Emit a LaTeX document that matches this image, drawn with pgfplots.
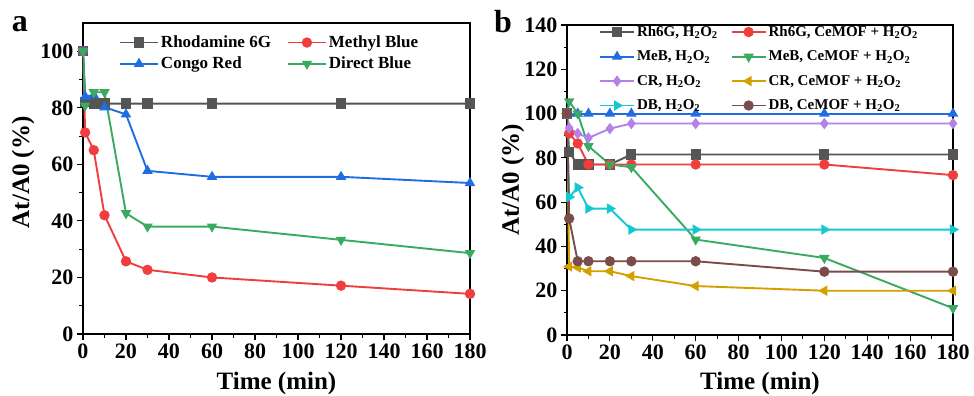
\documentclass[border=0pt]{standalone}
\usepackage{fontspec}
\setmainfont{Liberation Serif}
\usepackage{pgfplots}
\pgfplotsset{compat=1.18}
\definecolor{cgray}{RGB}{85,85,85}
\definecolor{cred}{RGB}{240,62,62}
\definecolor{cblue}{RGB}{30,110,225}
\definecolor{cgreen}{RGB}{58,170,96}
\definecolor{cpurple}{RGB}{180,130,230}
\definecolor{cgold}{RGB}{212,160,0}
\definecolor{ccyan}{RGB}{20,200,210}
\definecolor{cbrown}{RGB}{122,76,76}
\pgfplotsset{
 mystyle/.style={
  scale only axis,
  xmin=0,xmax=180, ymin=0,
  xtick={0,20,...,180}, minor x tick num=1, minor y tick num=1,
  tick align=outside, tick pos=left,
  major tick length=6bp, minor tick length=3.5bp,
  axis line style={line width=1.2bp},
  every tick/.style={black, line width=1.1bp},
  tick label style={font=\fontsize{22bp}{26bp}\selectfont\bfseries},
  /pgf/number format/assume math mode=true,
  xticklabel={\textbf{\pgfmathprintnumber{\tick}}},
  yticklabel={\textbf{\pgfmathprintnumber{\tick}}},
  label style={font=\fontsize{25bp}{30bp}\selectfont\bfseries},
  xlabel={Time (min)},
  ylabel={At/A0 (\%)},
  x label style={at={(axis description cs:0.5,-0.158)}, anchor=center},
  every axis plot/.append style={line width=1.9bp, mark size=4.2bp, mark options={solid}},
  legend cell align=left,
 }
}
\begin{document}
\begin{tikzpicture}
\path[use as bounding box] (-83bp,-62bp) rectangle (891bp,334bp);
\begin{axis}[mystyle, at={(0bp,0bp)}, anchor=south west,
  width=387bp, height=311bp, ymax=110, ytick={0,20,...,100},
  y label style={at={(axis description cs:-0.155,0.52)}, anchor=center},
  legend columns=2,
  legend image code/.code={\draw[mark repeat=2,mark phase=2] plot coordinates {(0bp,0bp) (19bp,0bp) (38bp,0bp)};},
  legend style={draw=none, fill=none, at={(axis description cs:0.085,0.972)}, anchor=north west,
    font=\fontsize{17bp}{20bp}\selectfont\bfseries, row sep=4bp,
    /tikz/every even column/.append style={column sep=14bp}},
]
\addplot[color=cgray, mark=square*] coordinates {(0,100)(1,82)(5,81.5)(10,81.5)(20,81.5)(30,81.5)(60,81.5)(120,81.5)(180,81.5)};
\addlegendentry{Rhodamine 6G}
\addplot[color=cred, mark=*] coordinates {(0,100)(1,71.3)(5,65)(10,42)(20,25.7)(30,22.7)(60,20)(120,17.1)(180,14.2)};
\addlegendentry{Methyl Blue}
\addplot[color=cblue, mark=triangle*] coordinates {(0,100)(1,84)(5,84.5)(10,80.2)(20,77.7)(30,57.7)(60,55.6)(120,55.6)(180,53.4)};
\addlegendentry{Congo Red}
\addplot[color=cgreen, mark=triangle*, mark options={rotate=180}] coordinates {(0,100)(1,80.8)(5,85.5)(10,85.5)(20,42.7)(30,38)(60,38)(120,33.3)(180,28.6)};
\addlegendentry{Direct Blue}
\end{axis}
\node[font=\fontsize{32bp}{36bp}\selectfont\bfseries] at (-63bp,310bp) {a};
\begin{axis}[mystyle, at={(484bp,-1bp)}, anchor=south west,
  width=386bp, height=310bp, ymax=140, ytick={0,20,...,140},
  y label style={at={(axis description cs:-0.14,0.5)}, anchor=center},
  legend columns=2,
  legend image code/.code={\draw[mark repeat=2,mark phase=2] plot coordinates {(0bp,0bp) (17bp,0bp) (34bp,0bp)};},
  legend style={draw=none, fill=none, at={(axis description cs:0.075,1.01)}, anchor=north west,
    font=\fontsize{15bp}{18bp}\selectfont\bfseries, row sep=9bp,
    /tikz/every even column/.append style={column sep=11bp}},
]
\addplot[color=cgray, mark=square*] coordinates {(0,100)(1,82.5)(5,77)(10,77)(20,77)(30,81.5)(60,81.5)(120,81.5)(180,81.5)};
\addlegendentry{Rh6G, H\textsubscript{2}O\textsubscript{2}}
\addplot[color=cred, mark=*] coordinates {(0,100)(1,91)(5,86.5)(10,77)(20,77)(30,77)(60,77)(120,77)(180,72.2)};
\addlegendentry{Rh6G, CeMOF + H\textsubscript{2}O\textsubscript{2}}
\addplot[color=cblue, mark=triangle*] coordinates {(0,100)(1,100)(5,100)(10,100)(20,100)(30,100)(60,100)(120,100)(180,100)};
\addlegendentry{MeB, H\textsubscript{2}O\textsubscript{2}}
\addplot[color=cgreen, mark=triangle*, mark options={rotate=180}] coordinates {(0,100)(1,105.5)(5,100)(10,85.3)(20,77)(30,75.8)(60,43.1)(120,34.8)(180,12.1)};
\addlegendentry{MeB, CeMOF + H\textsubscript{2}O\textsubscript{2}}
\addplot[color=cpurple, mark=diamond*] coordinates {(0,100)(1,93.5)(5,91)(10,89)(20,93.2)(30,95.5)(60,95.5)(120,95.5)(180,95.5)};
\addlegendentry{CR, H\textsubscript{2}O\textsubscript{2}}
\addplot[color=cgold, mark=triangle*, mark options={rotate=90}] coordinates {(0,100)(1,30.9)(5,30.5)(10,28.8)(20,28.8)(30,26.6)(60,22.1)(120,20)(180,20)};
\addlegendentry{CR, CeMOF + H\textsubscript{2}O\textsubscript{2}}
\addplot[color=ccyan, mark=triangle*, mark options={rotate=-90}] coordinates {(0,100)(1,62.3)(5,66.6)(10,57.1)(20,57.1)(30,47.6)(60,47.6)(120,47.6)(180,47.6)};
\addlegendentry{DB, H\textsubscript{2}O\textsubscript{2}}
\addplot[color=cbrown, mark=*] coordinates {(0,100)(1,52.6)(5,33.3)(10,33.3)(20,33.3)(30,33.3)(60,33.3)(120,28.6)(180,28.6)};
\addlegendentry{DB, CeMOF + H\textsubscript{2}O\textsubscript{2}}
\end{axis}
\node[font=\fontsize{32bp}{36bp}\selectfont\bfseries] at (420bp,312bp) {b};
\end{tikzpicture}
\end{document}
